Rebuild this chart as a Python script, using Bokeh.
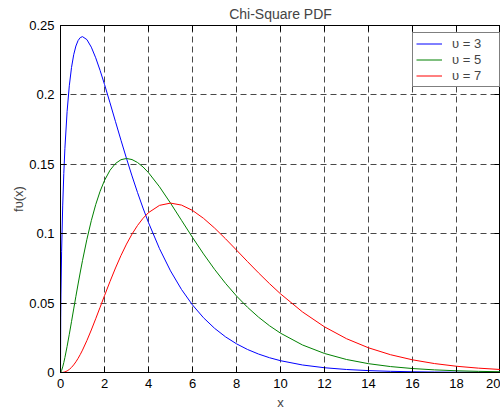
from bokeh.plotting import figure
from bokeh.models import (Range1d, FixedTicker, LinearAxis, Legend, LegendItem,
                          CustomJSTickFormatter, ColumnDataSource, CustomLabelingPolicy)
from bokeh.embed import file_html
from bokeh.resources import INLINE

x = [0, 0.01, 0.02, 0.05, 0.1, 0.15, 0.2, 0.3, 0.4, 0.5, 0.6, 0.7, 0.8, 0.9,
     1.0, 1.2, 1.4, 1.6, 1.8, 2.0, 2.25, 2.5, 2.75, 3.0, 3.25, 3.5, 3.75, 4.0,
     4.5, 5.0, 5.5, 6.0, 6.5, 7.0, 7.5, 8.0, 8.5, 9.0, 9.5, 10, 11, 12, 13, 14,
     15, 16, 17, 18, 19, 20]

pdf_nu3 = [0, 0.039695, 0.055858, 0.087004, 0.120004, 0.143346, 0.161434, 0.188074,
           0.206576, 0.219696, 0.228927, 0.235210, 0.239186, 0.241323, 0.241971,
           0.239841, 0.234405, 0.226743, 0.217611, 0.207554, 0.194276, 0.180722,
           0.167272, 0.154180, 0.141620, 0.129697, 0.118474, 0.107982, 0.089198,
           0.073225, 0.059811, 0.048652, 0.039437, 0.031873, 0.025695, 0.020667,
           0.016590, 0.013296, 0.010639, 0.008500, 0.005408, 0.003426, 0.002162,
           0.001361, 0.000854, 0.000535, 0.000334, 0.000208, 0.000130, 0.000081]

pdf_nu5 = [0, 0.000132, 0.000372, 0.001450, 0.004000, 0.007167, 0.010762, 0.018807,
           0.027544, 0.036616, 0.045786, 0.054882, 0.063783, 0.072397, 0.080657,
           0.095937, 0.109389, 0.120930, 0.130567, 0.138369, 0.145708, 0.150603,
           0.153332, 0.154181, 0.153422, 0.151313, 0.148093, 0.143976, 0.133797,
           0.122042, 0.109654, 0.097304, 0.085448, 0.074370, 0.064237, 0.055113,
           0.047007, 0.039887, 0.033689, 0.028335, 0.019828, 0.013704, 0.009368,
           0.006353, 0.004272, 0.002851, 0.001892, 0.001249, 0.000825, 0.000540]

pdf_nu7 = [0, 0.0000003, 0.0000015, 0.0000145, 0.000080, 0.000215, 0.000430, 0.001128,
           0.002204, 0.003662, 0.005494, 0.007683, 0.010205, 0.013031, 0.016131,
           0.023025, 0.030629, 0.038698, 0.047004, 0.055348, 0.065569, 0.075302,
           0.084333, 0.092509, 0.099724, 0.105919, 0.111070, 0.115181, 0.120417,
           0.122042, 0.120619, 0.116765, 0.111082, 0.104118, 0.096356, 0.088181,
           0.079912, 0.071797, 0.064009, 0.056670, 0.043622, 0.032890, 0.024357,
           0.017788, 0.012816, 0.009123, 0.006433, 0.004496, 0.003135, 0.002160]

series_labels = ["\u03c5 = 3", "\u03c5 = 5", "\u03c5 = 7"]
series_colors = ["#0000ff", "#008000", "#ff0000"]
x_ticks = [0, 2, 4, 6, 8, 10, 12, 14, 16, 18, 20]
y_ticks = [0, 0.05, 0.1, 0.15, 0.2, 0.25]

FONT = "Liberation Sans"

p = figure(width=500, height=412, output_backend="svg", toolbar_location=None,
           x_range=Range1d(0, 20), y_range=Range1d(0, 0.25),
           min_border_left=60, min_border_right=0, min_border_top=25,
           min_border_bottom=38, title="Chi-Square PDF")
p.background_fill_color = "white"
p.border_fill_color = "white"
p.outline_line_color = "black"
p.outline_line_width = 1

p.title.align = "center"
p.title.text_font = FONT
p.title.text_font_size = "14px"
p.title.text_font_style = "normal"
p.title.standoff = 7

src = ColumnDataSource(dict(x=x, a=pdf_nu3, b=pdf_nu5, c=pdf_nu7))
r1 = p.line("x", "a", source=src, line_color=series_colors[0], line_width=1)
r2 = p.line("x", "b", source=src, line_color=series_colors[1], line_width=1)
r3 = p.line("x", "c", source=src, line_color=series_colors[2], line_width=1)

fmt = CustomJSTickFormatter(code="return tick.toFixed(2).replace(/\\.?0+$/, '');")

for ax in (p.xaxis[0], p.yaxis[0]):
    ax.major_tick_in = 6
    ax.major_tick_out = 0
    ax.minor_tick_in = 0
    ax.minor_tick_out = 0
    ax.major_label_text_font = FONT
    ax.major_label_text_font_size = "13px"
    ax.major_label_text_color = "black"
    ax.axis_label_text_font = FONT
    ax.axis_label_text_font_size = "13px"
    ax.axis_label_text_font_style = "normal"
    ax.axis_line_color = "black"
    ax.major_tick_line_color = "black"
    ax.major_label_standoff = 6

p.xaxis[0].ticker = FixedTicker(ticks=x_ticks)
p.yaxis[0].ticker = FixedTicker(ticks=y_ticks)
p.yaxis[0].formatter = fmt
p.xaxis[0].axis_label = "x"
p.xaxis[0].axis_label_standoff = 4
p.yaxis[0].axis_label = "f\u03c5(x)"
p.yaxis[0].axis_label_standoff = 0

# mirrored ticks on top and right (no labels drawn)
hide_all = CustomLabelingPolicy(code="""
const all = [...indices];
for (const i of all) { indices.unset(i); }
return indices;
""")
for loc, tk in (("above", x_ticks), ("right", y_ticks)):
    ax = LinearAxis(ticker=FixedTicker(ticks=tk), major_tick_in=6, major_tick_out=0,
                    minor_tick_in=0, minor_tick_out=0, major_label_policy=hide_all,
                    major_label_text_font_size="0px", major_label_standoff=0,
                    axis_label_standoff=0, axis_line_color=None,
                    major_tick_line_color="black")
    p.add_layout(ax, loc)

for g, tk in ((p.xgrid[0], x_ticks), (p.ygrid[0], y_ticks)):
    g.ticker = FixedTicker(ticks=tk)
    g.grid_line_color = "black"
    g.grid_line_width = 0.8
    g.grid_line_dash = "6 4"
    g.grid_line_alpha = 0.9

legend = Legend(items=[LegendItem(label=series_labels[0], renderers=[r1]),
                       LegendItem(label=series_labels[1], renderers=[r2]),
                       LegendItem(label=series_labels[2], renderers=[r3])],
                location=(352, 285), margin=0, padding=3, spacing=1,
                glyph_width=26, glyph_height=15, label_standoff=10, label_width=44,
                label_text_font=FONT, label_text_font_size="13px",
                border_line_color="black", border_line_width=1,
                background_fill_color="white", background_fill_alpha=1)
p.add_layout(legend, "center")

open("out.html", "w").write(file_html(p, INLINE))
